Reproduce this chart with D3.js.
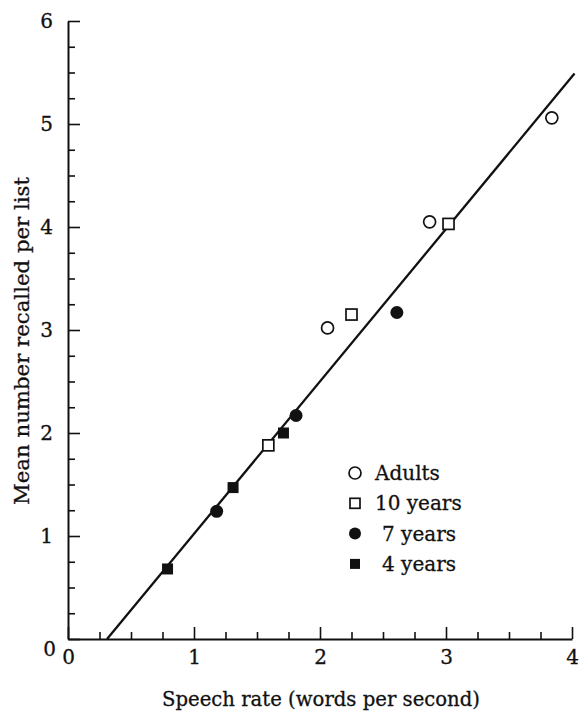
<!DOCTYPE html>
<html>
<head>
<meta charset="utf-8">
<script src="https://cdn.jsdelivr.net/npm/d3@7"></script>
<style>
  html, body { margin: 0; padding: 0; background: #fff; }
  svg text { font-family: "DejaVu Serif", "Liberation Serif", serif; fill: #111; stroke: #111; stroke-width: 0.3; }
</style>
</head>
<body>
<svg id="chart" width="580" height="712"></svg>
<script>
// data
const groups = ["Adults", "10 years", "7 years", "4 years"];
const adultsX = [2.06, 2.87, 3.84];
const adultsY = [3.02, 4.05, 5.06];
const tenX = [1.59, 2.25, 3.02];
const tenY = [1.88, 3.15, 4.03];
const sevenX = [1.18, 1.81, 2.61];
const sevenY = [1.24, 2.17, 3.17];
const fourX = [0.79, 1.31, 1.71];
const fourY = [0.68, 1.47, 2.00];
const fitX = [0.31, 4.02];
const fitY = [0, 5.49];
const xTicks = [0, 1, 2, 3, 4];
const yTicks = [0, 1, 2, 3, 4, 5, 6];

const svg = d3.select("#chart");
const x = d3.scaleLinear().domain([0, 4]).range([68, 572]);
const y = d3.scaleLinear().domain([0, 6]).range([639, 21]);

const ink = "#111";
const minor = d3.range(0, 4.01, 0.25).filter(v => v % 1 !== 0);
const minorY = d3.range(0, 6.01, 0.25).filter(v => v % 1 !== 0);

// x axis, ticks pointing inward
const gx = svg.append("g").attr("transform", `translate(0,${y(0)})`);
gx.call(d3.axisBottom(x).tickValues(xTicks).tickSizeInner(-12).tickSizeOuter(0).tickPadding(14).tickFormat(d3.format("d")));
gx.append("g").call(d3.axisBottom(x).tickValues(minor).tickSizeInner(-7).tickSizeOuter(0).tickFormat(""))
  .select(".domain").remove();

// y axis
const gy = svg.append("g").attr("transform", `translate(${x(0)},0)`);
gy.call(d3.axisLeft(y).tickValues(yTicks).tickSizeInner(-12).tickSizeOuter(0).tickPadding(15).tickFormat(d3.format("d")));
gy.append("g").call(d3.axisLeft(y).tickValues(minorY).tickSizeInner(-7).tickSizeOuter(0).tickFormat(""))
  .select(".domain").remove();

svg.selectAll(".domain").attr("stroke", ink).attr("stroke-width", 2);
svg.selectAll(".tick line").attr("stroke", ink).attr("stroke-width", 1.6);
svg.selectAll(".tick text").attr("font-size", 20).attr("fill", ink)
  .attr("font-family", "DejaVu Serif");
gx.selectAll(".tick text").attr("dy", "0.55em");
// the y "0" sits a little low in the original
gy.selectAll(".tick text").filter(d => d === 0).attr("dy", "0.8em").attr("x", -12);

// axis titles
svg.append("text")
  .attr("x", 321).attr("y", 706)
  .attr("text-anchor", "middle").attr("font-size", 20)
  .attr("textLength", 318).attr("lengthAdjust", "spacingAndGlyphs")
  .text("Speech rate (words per second)");

svg.append("text")
  .attr("transform", "translate(29,341) rotate(-90)")
  .attr("text-anchor", "middle").attr("font-size", 20)
  .attr("textLength", 328).attr("lengthAdjust", "spacingAndGlyphs")
  .text("Mean number recalled per list");

// regression line
const fit = fitX.map((v, i) => [v, fitY[i]]);
svg.append("path")
  .attr("d", d3.line().x(d => x(d[0])).y(d => y(d[1]))(fit))
  .attr("stroke", ink).attr("stroke-width", 2.3).attr("fill", "none");

// markers
function marker(sel, kind, size) {
  if (kind === "circle" || kind === "dot") {
    sel.append("circle").attr("r", size / 2)
      .attr("fill", kind === "dot" ? ink : "#fff")
      .attr("stroke", ink).attr("stroke-width", kind === "dot" ? 0 : 1.7);
  } else {
    sel.append("rect").attr("x", -size / 2).attr("y", -size / 2)
      .attr("width", size).attr("height", size)
      .attr("fill", kind === "block" ? ink : "#fff")
      .attr("stroke", ink).attr("stroke-width", kind === "block" ? 0 : 1.7);
  }
}

const series = [
  { xs: adultsX, ys: adultsY, kind: "circle", size: 12 },
  { xs: tenX, ys: tenY, kind: "square", size: 11 },
  { xs: sevenX, ys: sevenY, kind: "dot", size: 13 },
  { xs: fourX, ys: fourY, kind: "block", size: 11 }
];

series.forEach(s => {
  s.xs.forEach((v, i) => {
    const g = svg.append("g").attr("transform", `translate(${x(v)},${y(s.ys[i])})`);
    marker(g, s.kind, s.size);
  });
});

// legend
const leg = svg.append("g").attr("transform", "translate(355,473)");
groups.forEach((name, i) => {
  const row = leg.append("g").attr("transform", `translate(0,${i * 30.3})`);
  marker(row, series[i].kind, series[i].kind === "square" || series[i].kind === "block" ? 10 : 12);
  row.append("text")
    .attr("x", name.startsWith("10") || name === "Adults" ? 20 : 27)
    .attr("dy", "0.35em").attr("font-size", 20)
    .text(name);
});
</script>
</body>
</html>
